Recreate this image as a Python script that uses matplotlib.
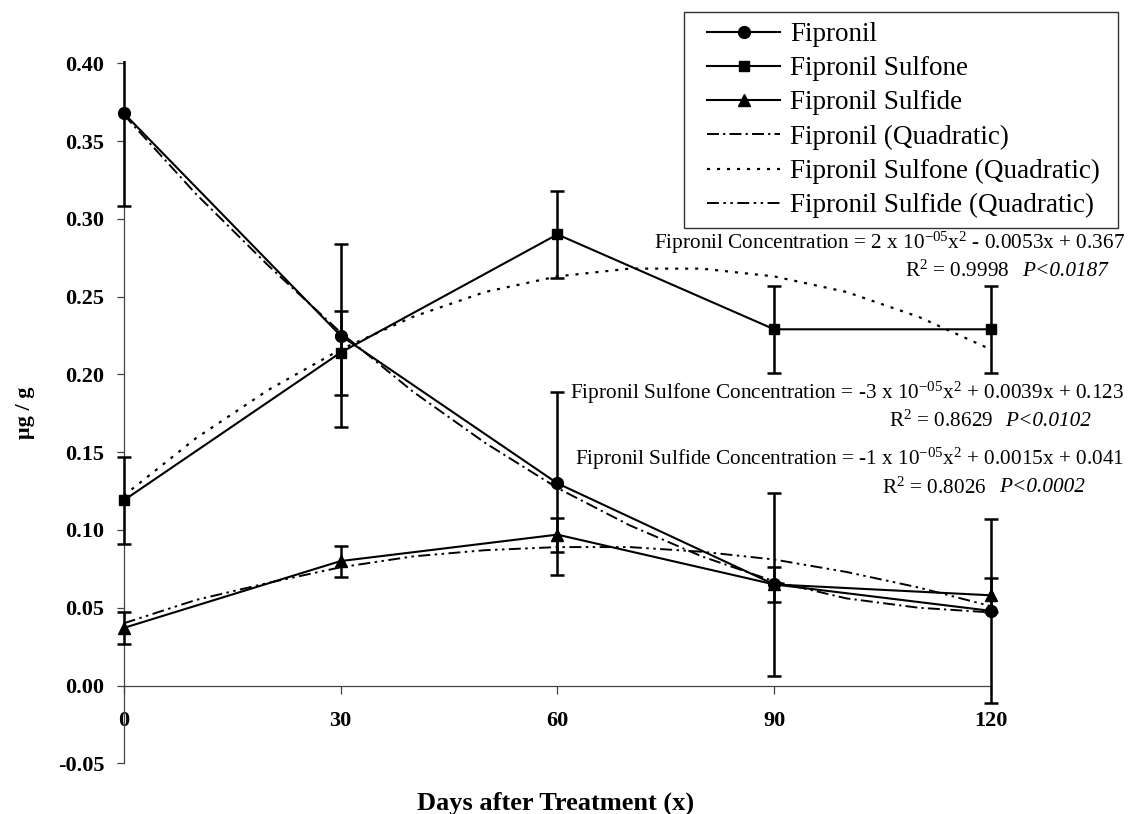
import matplotlib
matplotlib.use('Agg')
import matplotlib.pyplot as plt
from matplotlib.patches import Rectangle
from matplotlib.transforms import Bbox, TransformedBbox

# ---------------- data ----------------
days = [0, 30, 60, 90, 120]
fipronil = [0.368, 0.225, 0.130, 0.065, 0.048]
fipronil_err = [0.060, 0.059, 0.059, 0.059, 0.059]
sulfone = [0.119, 0.214, 0.290, 0.229, 0.229]
sulfone_err = [0.028, 0.027, 0.028, 0.028, 0.028]
sulfide = [0.037, 0.080, 0.097, 0.065, 0.058]
sulfide_err = [0.010, 0.010, 0.011, 0.011, 0.011]

fit_days = [0, 10, 20, 30, 40, 50, 60, 70, 80, 90, 100, 110, 120]
fipronil_fit = [0.367, 0.316, 0.270, 0.227, 0.189, 0.156, 0.127, 0.103, 0.083, 0.067, 0.056, 0.050, 0.047]
sulfone_fit = [0.122, 0.159, 0.190, 0.216, 0.237, 0.253, 0.263, 0.268, 0.268, 0.263, 0.253, 0.237, 0.216]
sulfide_fit = [0.040, 0.055, 0.066, 0.076, 0.083, 0.087, 0.089, 0.089, 0.086, 0.081, 0.073, 0.063, 0.051]

x_ticks = [0, 30, 60, 90, 120]
x_tick_labels = ['0', '30', '60', '90', '120']
y_ticks = [-0.05, 0.00, 0.05, 0.10, 0.15, 0.20, 0.25, 0.30, 0.35, 0.40]
y_tick_labels = ['-0.05', '0.00', '0.05', '0.10', '0.15', '0.20', '0.25', '0.30', '0.35', '0.40']

series_labels = ['Fipronil', 'Fipronil Sulfone', 'Fipronil Sulfide',
                 'Fipronil (Quadratic)', 'Fipronil Sulfone (Quadratic)', 'Fipronil Sulfide (Quadratic)']

eq_fipronil = r'Fipronil Concentration = 2 x 10$^{-05}$x$^{2}$ - 0.0053x + 0.367'
r2_fipronil = r'R$^{2}$ = 0.9998'
p_fipronil = 'P<0.0187'
eq_sulfone = r'Fipronil Sulfone Concentration = -3 x 10$^{-05}$x$^{2}$ + 0.0039x + 0.123'
r2_sulfone = r'R$^{2}$ = 0.8629'
p_sulfone = 'P<0.0102'
eq_sulfide = r'Fipronil Sulfide Concentration = -1 x 10$^{-05}$x$^{2}$ + 0.0015x + 0.041'
r2_sulfide = r'R$^{2}$ = 0.8026'
p_sulfide = 'P<0.0002'

# ---------------- style ----------------
plt.rcParams['font.family'] = ['Liberation Serif', 'DejaVu Serif']
plt.rcParams['mathtext.fontset'] = 'custom'
plt.rcParams['mathtext.rm'] = 'Liberation Serif'
plt.rcParams['mathtext.it'] = 'Liberation Serif:italic'
plt.rcParams['mathtext.default'] = 'regular'
plt.rcParams['lines.scale_dashes'] = False

W, H = 1128, 814
fig = plt.figure(figsize=(W / 100, H / 100), dpi=100)
fig.patch.set_facecolor('white')

def fx(px):
    return px / W

def fy(py):
    return 1 - py / H

ax = fig.add_axes([fx(123.7), fy(763.3), (991 - 123.7) / W, (763.3 - 63.3) / H])
ax.set_xlim(0, 120)
ax.set_ylim(-0.05, 0.40)

for s in ['top', 'right']:
    ax.spines[s].set_visible(False)
ax.spines['bottom'].set_position(('data', 0))
for s in ['left', 'bottom']:
    ax.spines[s].set_color('#444444')
    ax.spines[s].set_linewidth(0.9)

ax.set_xticks(x_ticks)
ax.set_xticklabels(x_tick_labels, fontsize=16, fontweight='bold')
ax.set_yticks(y_ticks)
ax.set_yticklabels(y_tick_labels, fontsize=16, fontweight='bold')
ax.tick_params(axis='x', direction='out', length=6, width=0.9, color='#444444', pad=12)
ax.tick_params(axis='y', direction='out', length=5, width=0.9, color='#444444', pad=9)

# clip region slightly wider than the axes so end markers are whole
clipbox = TransformedBbox(Bbox([[-0.03, -0.02], [1.03, 1.004]]), ax.transAxes)

def wide_clip(artist):
    artist.set_clip_on(True)
    artist.set_clip_path(None)
    artist.set_clip_box(clipbox)

# quadratic fits
fip_dash = (0, (8.6, 3.0, 1.6, 3.0))
sulfone_dot = (0, (2.2, 5.0))
sulfide_dash = (0, (8.6, 3.2, 1.8, 3.2, 1.8, 3.2))
l4, = ax.plot(fit_days, fipronil_fit, color='black', lw=1.4, linestyle=fip_dash, zorder=3)
l5, = ax.plot(fit_days, sulfone_fit, color='black', lw=1.6, linestyle=sulfone_dot, zorder=3)
l6, = ax.plot(fit_days, sulfide_fit, color='black', lw=1.4, linestyle=sulfide_dash, zorder=3)

# error bars
for vals, errs in [(fipronil, fipronil_err), (sulfone, sulfone_err), (sulfide, sulfide_err)]:
    cont = ax.errorbar(days, vals, yerr=errs, fmt='none', ecolor='black', elinewidth=1.8,
                       capsize=4.8, capthick=1.8, zorder=4)
    for art in cont.get_children():
        wide_clip(art)

l1, = ax.plot(days, fipronil, color='black', lw=1.5, marker='o', markersize=8.5, zorder=5)
l2, = ax.plot(days, sulfone, color='black', lw=1.5, marker='s', markersize=7.5, zorder=5)
l3, = ax.plot(days, sulfide, color='black', lw=1.5, marker='^', markersize=8.5, zorder=5)
for ln in (l1, l2, l3, l4, l5, l6):
    wide_clip(ln)

# axis labels
fig.text(fx(556), fy(803), 'Days after Treatment (x)', ha='center', va='center',
         fontsize=19, fontweight='bold')
fig.text(fx(25), fy(413), 'μg / g', ha='center', va='center', rotation=90,
         fontsize=16, fontweight='bold')

# legend
leg = fig.legend([l1, l2, l3, l4, l5, l6], series_labels, loc='upper left',
                 bbox_to_anchor=(fx(707), fy(22)), frameon=False, fontsize=19.5,
                 handlelength=2.7, handletextpad=0.37, labelspacing=0.34, borderpad=0,
                 borderaxespad=0, numpoints=1)
fig.patches.append(Rectangle((fx(684), fy(228)), (1118 - 684) / W, (228 - 12) / H,
                             transform=fig.transFigure, fill=False, edgecolor='#333333',
                             linewidth=1.0))

# equations
eq_fs = 15.3
fig.text(fx(1125), fy(243), eq_fipronil, ha='right', va='center', fontsize=eq_fs)
fig.text(fx(1009), fy(271), r2_fipronil, ha='right', va='center', fontsize=eq_fs)
fig.text(fx(1022), fy(271), p_fipronil, ha='left', va='center', fontsize=eq_fs, style='italic')

fig.text(fx(1124), fy(393), eq_sulfone, ha='right', va='center', fontsize=eq_fs)
fig.text(fx(993), fy(421), r2_sulfone, ha='right', va='center', fontsize=eq_fs)
fig.text(fx(1005), fy(421), p_sulfone, ha='left', va='center', fontsize=eq_fs, style='italic')

fig.text(fx(1124), fy(459), eq_sulfide, ha='right', va='center', fontsize=eq_fs)
fig.text(fx(987), fy(488), r2_sulfide, ha='right', va='center', fontsize=eq_fs)
fig.text(fx(999), fy(488), p_sulfide, ha='left', va='center', fontsize=eq_fs, style='italic')

fig.savefig('out.png', dpi=100, facecolor='white')
